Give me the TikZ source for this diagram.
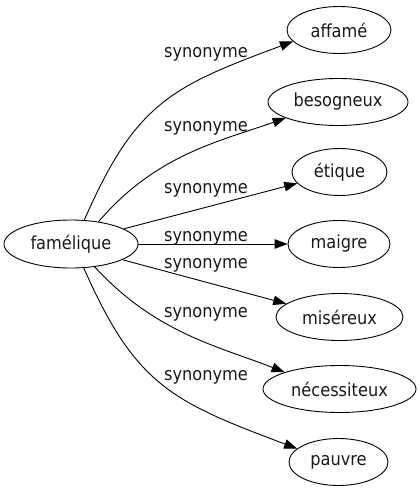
\documentclass[tikz,border=0pt]{standalone}
\usepackage{fontspec}
\setmainfont{DejaVu Sans Condensed}
\usetikzlibrary{shapes.geometric,arrows.meta}
\begin{document}
\begin{tikzpicture}[x=1pt,y=-1pt,
  every node/.style={font=\fontsize{18pt}{21pt}\selectfont, text=black!90},
  term/.style={draw, ellipse, inner sep=0pt, minimum height=47pt, line width=0.9pt},
  lbl/.style={anchor=base, inner sep=0pt},
  rel/.style={line width=0.9pt, -{Triangle[length=13pt,width=9.5pt]}}]
\useasboundingbox (0,0) rectangle (419,491);
\node[term, minimum width=134pt, minimum height=48pt] (src) at (71,244) {famélique};
\node[term, minimum width=104pt] (affame) at (339,30) {affamé};
\node[term, minimum width=140pt] (besogneux) at (338,102) {besogneux};
\node[term, minimum width=95pt] (etique) at (339.5,172) {étique};
\node[term, minimum width=102pt] (maigre) at (339,244) {maigre};
\node[term, minimum width=127pt] (misereux) at (339.5,317) {miséreux};
\node[term, minimum width=153pt] (necessiteux) at (339.5,389) {nécessiteux};
\node[term, minimum width=99pt] (pauvre) at (338.5,462) {pauvre};

\draw[rel] (src.61.4) .. controls (135.5,103) and (171,86.7) .. (affame.194.6);
\draw[rel] (src.39.6) .. controls (155.6,154.7) and (219.9,141.2) .. (besogneux.197.1);
\draw[rel] (src.16.4) -- (etique.195.1);
\draw[rel] (src.east) -- (maigre.west);
\draw[rel] (src.-17.1) -- (misereux.166.1);
\draw[rel] (src.-44) .. controls (155.6,333.3) and (219.9,346.8) .. (necessiteux.163.3);
\draw[rel] (src.-62.5) .. controls (135.5,385) and (171,401.3) .. (pauvre.162.9);

\node[lbl] (l1) at (206,57) {synonyme};
\node[lbl] (l2) at (206,131) {synonyme};
\node[lbl] (l3) at (206,193) {synonyme};
\node[lbl] (l4) at (206,241) {synonyme};
\node[lbl] (l5) at (206,268) {synonyme};
\node[lbl] (l6) at (206,317) {synonyme};
\node[lbl] (l7) at (206,380) {synonyme};
\end{tikzpicture}
\end{document}
